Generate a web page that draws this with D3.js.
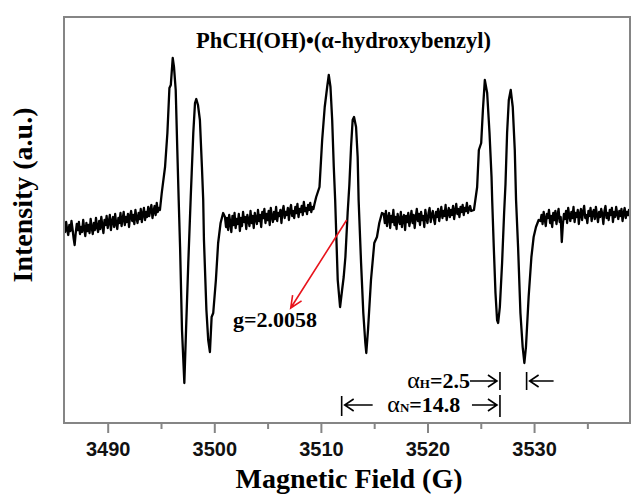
<!DOCTYPE html>
<html>
<head>
<meta charset="utf-8">
<script src="https://cdn.jsdelivr.net/npm/d3@7"></script>
<style>
  body { margin: 0; background: #fff; }
  svg { display: block; }
</style>
</head>
<body>
<svg id="vis_svg" width="632" height="495"></svg>
<script>
// EPR spectrum, field in gauss, intensity in arbitrary units
const titleText = 'PhCH(OH)\u2022(\u03b1-hydroxybenzyl)';
const xLabel = 'Magnetic Field (G)';
const yLabel = 'Intensity (a.u.)';
const majorTicks = [3490, 3500, 3510, 3520, 3530];
const minorTicks = [3495, 3505, 3515, 3525, 3535];

// baseline stretches, sampled every 0.1 G from their start field
const sampleStep = 0.1;
const baseStarts = [3485.9, 3501.0, 3515.9, 3530.6];
const base1 = [
  -0.04, -0.12, -0.02, -0.10, -0.15, -0.05, -0.11, -0.01, -0.09, -0.18,
  -0.25, -0.13, -0.04, -0.10, -0.02, -0.14, -0.07, -0.12, 0.00, -0.09,
  -0.16, -0.03, -0.11, -0.05, -0.13, 0.01, -0.08, -0.14, -0.03, -0.10,
  0.02, -0.07, -0.12, -0.01, -0.09, 0.03, -0.06, -0.13, 0.00, -0.05,
  0.04, -0.08, -0.02, 0.05, -0.10, -0.01, 0.03, -0.07, 0.06, -0.04,
  -0.09, 0.02, -0.03, 0.07, -0.06, 0.01, 0.08, -0.05, 0.03, -0.02,
  0.06, -0.07, 0.04, 0.09, -0.01, 0.05, -0.04, 0.10, 0.02, -0.03,
  0.07, 0.01, 0.11, -0.02, 0.06, 0.12, 0.00, 0.08, 0.03, 0.13,
  0.04, 0.10, 0.15, 0.02, 0.09, 0.14, 0.05, 0.17, 0.08, 0.12,
  0.10
];
const base2 = [
  0.03, -0.07, 0.02, -0.10, 0.05, -0.03, -0.12, 0.04, -0.05, 0.07,
  -0.08, 0.01, -0.04, 0.06, -0.11, 0.02, -0.06, 0.08, -0.02, 0.03,
  -0.09, 0.05, 0.00, -0.06, 0.09, -0.03, 0.04, -0.08, 0.07, 0.01,
  -0.04, 0.10, -0.01, 0.05, -0.07, 0.08, 0.02, 0.11, -0.03, 0.06,
  0.00, 0.09, -0.05, 0.12, 0.03, -0.02, 0.08, 0.01, 0.13, -0.01,
  0.07, 0.04, 0.10, -0.03, 0.09, 0.14, 0.02, 0.08, 0.05, 0.12,
  0.00, 0.10, 0.15, 0.04, 0.09, 0.02, 0.13, 0.07, 0.16, 0.03,
  0.11, 0.08, 0.14, 0.05, 0.18, 0.09, 0.12, 0.06, 0.15, 0.10,
  0.17, 0.08, 0.13, 0.11, 0.16
];
const base3 = [
  0.06, -0.03, 0.09, -0.06, 0.02, 0.07, -0.08, 0.04, -0.02, 0.10,
  -0.05, 0.03, -0.09, 0.06, 0.00, -0.04, 0.08, -0.07, 0.02, 0.05,
  -0.10, 0.04, -0.02, 0.07, -0.06, 0.01, 0.09, -0.03, 0.05, -0.08,
  0.03, 0.11, -0.01, 0.06, -0.05, 0.08, 0.00, 0.04, -0.07, 0.10,
  0.02, -0.03, 0.07, 0.12, -0.02, 0.05, 0.09, 0.01, -0.04, 0.08,
  0.03, 0.11, -0.01, 0.06, 0.13, 0.02, 0.09, 0.04, 0.15, 0.00,
  0.07, 0.12, 0.03, 0.10, 0.05, 0.14, 0.01, 0.09, 0.16, 0.06,
  0.11, 0.03, 0.13, 0.08, 0.15, 0.05, 0.12, 0.09, 0.17, 0.07,
  0.11, 0.14, 0.09
];
const base4 = [
  -0.01, 0.05, -0.04, 0.08, 0.01, -0.06, 0.06, 0.02, 0.10, -0.03,
  0.04, -0.07, 0.07, 0.00, 0.09, -0.04, 0.05, 0.11, -0.02, 0.03,
  -0.22, -0.05, 0.06, 0.01, 0.09, -0.03, 0.12, 0.04, -0.01, 0.08,
  0.02, 0.13, -0.02, 0.07, 0.03, 0.10, -0.04, 0.06, 0.11, 0.00,
  0.08, 0.14, 0.02, 0.05, -0.03, 0.09, 0.04, 0.12, -0.01, 0.07,
  0.10, 0.01, 0.13, 0.05, -0.02, 0.08, 0.03, 0.11, 0.06, -0.04,
  0.09, 0.14, 0.02, 0.07, 0.00, 0.10, 0.05, 0.12, -0.02, 0.08,
  0.03, 0.13, 0.06, 0.01, 0.09, 0.04, 0.11, -0.01, 0.07, 0.12,
  0.02, 0.08, 0.05, 0.10, 0.03
];

// the three hyperfine line pairs, [field, intensity]
const group1 = [
  [3495.07, 0.27], [3495.38, 0.53], [3495.60, 0.87], [3495.79, 1.32], [3495.92, 1.35],
  [3496.10, 1.62], [3496.22, 1.53], [3496.38, 1.30], [3496.53, 0.70], [3496.66, 0.20],
  [3496.79, -0.27], [3496.97, -1.10], [3497.19, -1.63], [3497.35, -1.10], [3497.56, -0.43],
  [3497.79, 0.23], [3497.88, 0.47], [3498.03, 0.87], [3498.19, 1.17], [3498.31, 1.21],
  [3498.47, 1.15], [3498.65, 1.00], [3498.84, 0.53], [3498.96, 0.20], [3499.03, -0.20],
  [3499.26, -0.90], [3499.43, -1.20], [3499.59, -1.32], [3499.75, -0.97], [3499.90, -0.93],
  [3500.15, -0.60], [3500.36, -0.23], [3500.59, -0.03], [3500.83, 0.07]
];
const group2 = [
  [3509.56, 0.23], [3509.87, 0.33], [3510.12, 0.80], [3510.36, 1.13], [3510.59, 1.33],
  [3510.74, 1.45], [3510.90, 1.33], [3511.06, 1.00], [3511.21, 0.53], [3511.34, 0.20],
  [3511.43, -0.10], [3511.58, -0.60], [3511.80, -0.87], [3511.99, -0.70], [3512.14, -0.57],
  [3512.30, -0.37], [3512.51, 0.07], [3512.67, 0.35], [3512.83, 0.73], [3512.98, 1.00],
  [3513.11, 1.03], [3513.30, 0.93], [3513.45, 0.63], [3513.54, 0.20], [3513.77, -0.43],
  [3513.98, -0.93], [3514.17, -1.23], [3514.26, -1.33], [3514.42, -1.10], [3514.70, -0.60],
  [3515.01, -0.23], [3515.26, -0.17], [3515.48, -0.03], [3515.73, 0.07]
];
const group3 = [
  [3524.36, 0.10], [3524.66, 0.33], [3524.82, 0.70], [3525.04, 0.77], [3525.20, 1.10],
  [3525.38, 1.40], [3525.60, 1.27], [3525.82, 0.87], [3526.01, 0.43], [3526.07, 0.20],
  [3526.22, -0.27], [3526.38, -0.73], [3526.53, -1.00], [3526.63, -1.03], [3526.79, -0.87],
  [3527.00, -0.43], [3527.19, 0.07], [3527.32, 0.36], [3527.47, 0.87], [3527.63, 1.20],
  [3527.81, 1.30], [3528.00, 1.13], [3528.19, 0.70], [3528.31, 0.20], [3528.50, -0.27],
  [3528.72, -0.93], [3528.93, -1.27], [3529.09, -1.43], [3529.24, -1.27], [3529.49, -0.77],
  [3529.75, -0.37], [3529.96, -0.17], [3530.18, -0.07], [3530.43, 0.00]
];

// annotations
const gValue = 'g=2.0058';
const gArrow = [[3512.42, 0.0], [3507.17, -0.88]];
const gLabelAt = [3501.75, -1.07];
const splitN = { label: 'N', value: '14.8', from: 3511.95, to: 3526.8 };
const splitH = { label: 'H', value: '2.5', from: 3526.8, to: 3529.3 };

const draw_spectrum = () => {
  const margin = { top: 17, bottom: 72, left: 64, right: 2 };

  let svg = d3.select('#vis_svg');
  let width = +svg.attr('width');
  let height = +svg.attr('height');

  const xScale = d3.scaleLinear()
    .domain([3485.9, 3539.0])
    .range([margin.left, width - margin.right]);

  const yScale = d3.scaleLinear()
    .domain([-2.03, 2.03])
    .range([height - margin.bottom, margin.top]);

  const serif = "'Liberation Serif', 'Times New Roman', serif";
  const sans = "'Liberation Sans', Arial, sans-serif";
  const frameColor = '#858585';

  // build the trace from the pieces
  const toPts = (vals, start) => vals.map((v, i) => [start + i * sampleStep, v]);
  const trace = [].concat(
    toPts(base1, baseStarts[0]), group1,
    toPts(base2, baseStarts[1]), group2,
    toPts(base3, baseStarts[2]), group3,
    toPts(base4, baseStarts[3])
  );

  svg.append('defs').append('clipPath').attr('id', 'clip')
    .append('rect')
    .attr('x', margin.left).attr('y', margin.top)
    .attr('width', width - margin.left - margin.right)
    .attr('height', height - margin.top - margin.bottom);

  const line = d3.line()
    .x((d) => xScale(d[0]))
    .y((d) => yScale(d[1]));

  svg.append('path')
    .datum(trace)
    .attr('clip-path', 'url(#clip)')
    .attr('d', line)
    .attr('fill', 'none')
    .attr('stroke', '#000')
    .attr('stroke-width', 2.3)
    .attr('stroke-linejoin', 'round');

  // x axis: major and minor ticks pointing out, in separate groups
  const g_x_minor = svg.append('g')
    .attr('transform', `translate(0,${height - margin.bottom})`)
    .call(d3.axisBottom(xScale).tickValues(minorTicks).tickSize(6).tickFormat(''));
  const g_x = svg.append('g')
    .attr('transform', `translate(0,${height - margin.bottom})`)
    .call(d3.axisBottom(xScale).tickValues(majorTicks).tickSize(10).tickFormat(d3.format('d')));
  [g_x, g_x_minor].forEach((g) => {
    g.selectAll('.domain').remove();
    g.selectAll('line').attr('stroke', frameColor).attr('stroke-width', 2);
  });
  g_x.selectAll('text')
    .attr('y', 33).attr('dy', 0)
    .style('font-family', sans)
    .style('font-weight', 'bold')
    .style('font-size', '20px')
    .attr('fill', '#111');

  // frame
  svg.append('rect')
    .attr('x', margin.left).attr('y', margin.top)
    .attr('width', width - margin.left - margin.right)
    .attr('height', height - margin.top - margin.bottom)
    .attr('fill', 'none')
    .attr('stroke', frameColor)
    .attr('stroke-width', 2);

  // titles
  svg.append('text')
    .attr('x', 196).attr('y', 48)
    .style('font-family', serif).style('font-weight', 'bold').style('font-size', '22.5px')
    .text(titleText);

  svg.append('text')
    .attr('x', 349).attr('y', 488)
    .attr('text-anchor', 'middle')
    .style('font-family', serif).style('font-weight', 'bold').style('font-size', '28px')
    .text(xLabel);

  svg.append('text')
    .attr('transform', 'translate(32,195) rotate(-90)')
    .attr('text-anchor', 'middle')
    .style('font-family', serif).style('font-weight', 'bold').style('font-size', '28px')
    .text(yLabel);

  // g-factor arrow (red)
  const ax0 = xScale(gArrow[0][0]), ay0 = yScale(gArrow[0][1]);
  const ax1 = xScale(gArrow[1][0]), ay1 = yScale(gArrow[1][1]);
  const ang = Math.atan2(ay1 - ay0, ax1 - ax0);
  const head = 13, spread = 0.42;
  svg.append('path')
    .attr('d', `M${ax0},${ay0}L${ax1},${ay1}` +
      `M${ax1 - head * Math.cos(ang - spread)},${ay1 - head * Math.sin(ang - spread)}` +
      `L${ax1},${ay1}` +
      `L${ax1 - head * Math.cos(ang + spread)},${ay1 - head * Math.sin(ang + spread)}`)
    .attr('fill', 'none')
    .attr('stroke', '#e8141c')
    .attr('stroke-width', 1.6);

  svg.append('text')
    .attr('x', xScale(gLabelAt[0])).attr('y', yScale(gLabelAt[1]))
    .style('font-family', serif).style('font-weight', 'bold').style('font-size', '22px')
    .text(gValue);

  // hyperfine splitting markers
  const g_ann = svg.append('g')
    .attr('stroke', '#000').attr('stroke-width', 1.6).attr('fill', 'none');

  const arrowHead = (x, y, dir) =>
    `M${x - dir * 9},${y - 6}L${x},${y}L${x - dir * 9},${y + 6}`;

  const rowH = 381, rowN = 405;
  const hL = xScale(splitH.from), hR = xScale(splitH.to);
  const nL = xScale(splitN.from), nR = xScale(splitN.to);

  // a_H row
  g_ann.append('path').attr('d', `M${hL},${rowH - 9}V${rowH + 9}M${hR},${rowH - 9}V${rowH + 9}`);
  g_ann.append('path').attr('d', `M${hL - 30},${rowH}H${hL - 3}` + arrowHead(hL - 3, rowH, 1));
  g_ann.append('path').attr('d', `M${hR + 27},${rowH}H${hR + 3}` + arrowHead(hR + 3, rowH, -1));

  // a_N row
  g_ann.append('path').attr('d', `M${nL},${rowN - 9}V${rowN + 11}M${nR},${rowN - 10}V${rowN + 12}`);
  g_ann.append('path').attr('d', `M${nL + 31},${rowN}H${nL + 3}` + arrowHead(nL + 3, rowN, -1));
  g_ann.append('path').attr('d', `M${nR - 28},${rowN}H${nR - 3}` + arrowHead(nR - 3, rowN, 1));

  const splitText = (s, x, y, anchor) => {
    const t = svg.append('text')
      .attr('x', x).attr('y', y)
      .attr('text-anchor', anchor)
      .style('font-family', serif).style('font-weight', 'bold').style('font-size', '22px');
    t.append('tspan').style('font-weight', 'normal').style('font-size', '24px').text('\u03b1');
    t.append('tspan').style('font-size', '13px').text(s.label);
    t.append('tspan').text('=' + s.value);
  };
  splitText(splitH, hL - 30, rowH + 7, 'end');
  splitText(splitN, (nL + nR) / 2 + 3, rowN + 7, 'middle');
};

draw_spectrum();
</script>
</body>
</html>
